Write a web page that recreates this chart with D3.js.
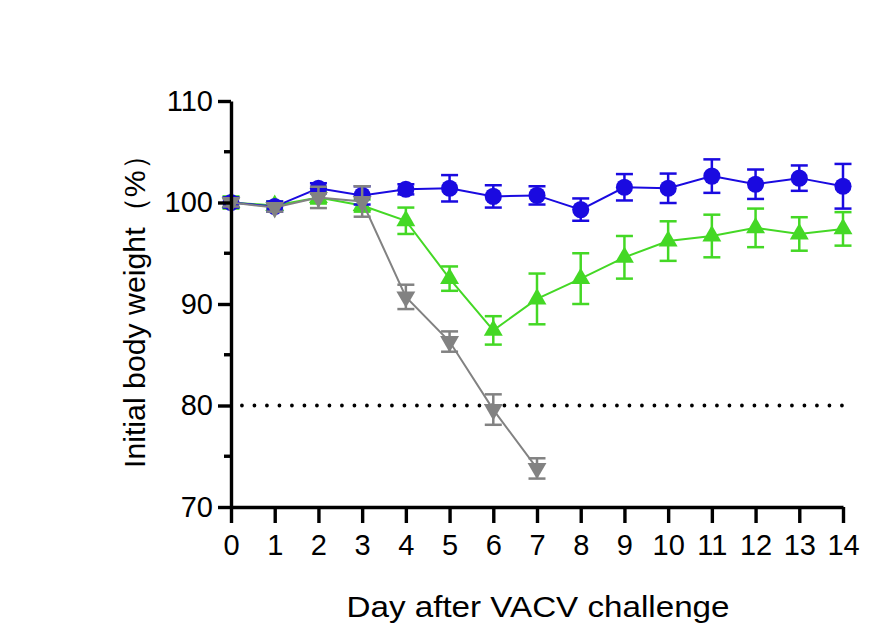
<!DOCTYPE html>
<html>
<head>
<meta charset="utf-8">
<script src="https://cdn.jsdelivr.net/npm/d3@7"></script>
<style>
  html, body { margin: 0; padding: 0; background: #fff; }
  svg { display: block; }
  text { font-family: "Liberation Sans", Arial, sans-serif; fill: #000; }
</style>
</head>
<body>
<svg id="chart" width="873" height="642"></svg>
<script>
const days = [0,1,2,3,4,5,6,7,8,9,10,11,12,13,14];
const xTicks = [0,1,2,3,4,5,6,7,8,9,10,11,12,13,14];
const yTicks = [70,80,90,100,110];
const yMinorTicks = [75,85,95,105];

const blueMean = [100.0, 99.6, 101.4, 100.7, 101.3, 101.4, 100.6, 100.7, 99.3, 101.5, 101.4, 102.6, 101.8, 102.4, 101.6];
const blueErr  = [0.5, 0.5, 0.5, 0.9, 0.5, 1.3, 1.1, 0.9, 1.1, 1.3, 1.45, 1.65, 1.45, 1.25, 2.2];

const greenMean = [100.0, 99.7, 100.5, 99.7, 98.2, 92.5, 87.4, 90.5, 92.5, 94.6, 96.2, 96.7, 97.5, 96.9, 97.4];
const greenErr  = [0.6, 0.4, 0.6, 0.6, 1.3, 1.2, 1.4, 2.5, 2.5, 2.1, 1.95, 2.1, 1.9, 1.65, 1.65];

const grayDays = [0,1,2,3,4,5,6,7];
const grayMean = [100.0, 99.5, 100.5, 100.1, 90.7, 86.3, 79.6, 73.8];
const grayErr  = [0.4, 0.4, 1.05, 1.5, 1.2, 1.0, 1.5, 1.0];

const threshold = 80;
const xLabel = "Day after VACV challenge";
const yLabel = "Initial body weight（%）";

const svg = d3.select("#chart");
const x = d3.scaleLinear().domain([0, 14]).range([231, 843]);
const y = d3.scaleLinear().domain([70, 110]).range([507, 101]);

// dotted threshold line
svg.append("line")
  .attr("x1", x(0.25)).attr("x2", x(14.05))
  .attr("y1", y(threshold)).attr("y2", y(threshold))
  .attr("stroke", "#000").attr("stroke-width", 3.8)
  .attr("stroke-linecap", "round")
  .attr("stroke-dasharray", "0,12.5");

function drawSeries(xs, means, errs, color, symbolType, symbolSize, rotate, lineW) {
  const g = svg.append("g");
  const pts = xs.map((d, i) => ({d, m: means[i], e: errs[i]}));
  g.append("path")
    .datum(pts)
    .attr("fill", "none")
    .attr("stroke", color)
    .attr("stroke-width", lineW)
    .attr("d", d3.line().x(p => x(p.d)).y(p => y(p.m)));
  const cap = 8.5;
  const eb = g.selectAll("g.eb").data(pts).enter().append("g");
  eb.append("line")
    .attr("x1", p => x(p.d)).attr("x2", p => x(p.d))
    .attr("y1", p => y(p.m - p.e)).attr("y2", p => y(p.m + p.e))
    .attr("stroke", color).attr("stroke-width", 2.5);
  eb.append("line")
    .attr("x1", p => x(p.d) - cap).attr("x2", p => x(p.d) + cap)
    .attr("y1", p => y(p.m + p.e)).attr("y2", p => y(p.m + p.e))
    .attr("stroke", color).attr("stroke-width", 2.5);
  eb.append("line")
    .attr("x1", p => x(p.d) - cap).attr("x2", p => x(p.d) + cap)
    .attr("y1", p => y(p.m - p.e)).attr("y2", p => y(p.m - p.e))
    .attr("stroke", color).attr("stroke-width", 2.5);
  g.selectAll("path.sym").data(pts).enter().append("path")
    .attr("class", "sym")
    .attr("d", d3.symbol().type(symbolType).size(symbolSize))
    .attr("transform", p => `translate(${x(p.d)},${y(p.m)}) rotate(${rotate})`)
    .attr("fill", color);
}

drawSeries(days, greenMean, greenErr, "#44d825", d3.symbolTriangle, 155, 0, 2);
drawSeries(days, blueMean, blueErr, "#1a0ae0", d3.symbolCircle, 230, 0, 2);
drawSeries(grayDays, grayMean, grayErr, "#828282", d3.symbolTriangle, 155, 180, 2);

// axes
const yAxis = svg.append("g")
  .attr("transform", `translate(${x(0)},0)`)
  .call(d3.axisLeft(y).tickValues(yTicks).tickSize(13).tickSizeOuter(0).tickPadding(5).tickFormat(d3.format("d")));
yAxis.select(".domain").attr("stroke-width", 3.4);
yAxis.selectAll(".tick line").attr("stroke-width", 3.4);
yAxis.selectAll("text").style("font-size", "29px").attr("font-family", "Liberation Sans, Arial, sans-serif");

svg.append("g").selectAll("line").data(yMinorTicks).enter().append("line")
  .attr("x1", x(0) - 7).attr("x2", x(0))
  .attr("y1", d => y(d)).attr("y2", d => y(d))
  .attr("stroke", "#000").attr("stroke-width", 3.4);

const xAxis = svg.append("g")
  .attr("transform", `translate(0,${y(70)})`)
  .call(d3.axisBottom(x).tickValues(xTicks).tickSize(16).tickSizeOuter(0).tickPadding(11).tickFormat(d3.format("d")));
xAxis.select(".domain").attr("stroke-width", 3.4);
xAxis.selectAll(".tick line").attr("stroke-width", 3.4);
xAxis.selectAll("text").style("font-size", "29px").attr("font-family", "Liberation Sans, Arial, sans-serif");

// axis titles
svg.append("text")
  .attr("x", 538).attr("y", 617)
  .attr("text-anchor", "middle")
  .style("font-size", "30px")
  .attr("textLength", 383).attr("lengthAdjust", "spacingAndGlyphs")
  .text(xLabel);

svg.append("text")
  .attr("transform", "translate(145,304) rotate(-90)")
  .attr("text-anchor", "middle")
  .style("font-size", "30px")
  .attr("textLength", 328).attr("lengthAdjust", "spacingAndGlyphs")
  .text(yLabel);
</script>
</body>
</html>
